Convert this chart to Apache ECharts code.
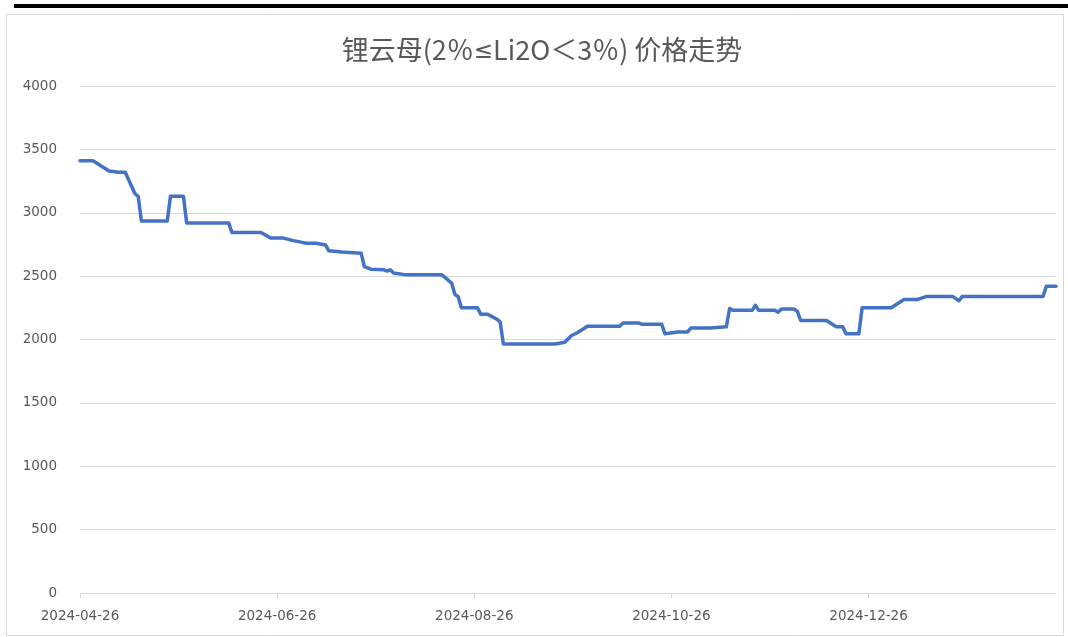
<!DOCTYPE html>
<html>
<head>
<meta charset="utf-8">
<script src="https://cdn.jsdelivr.net/npm/echarts@6/dist/echarts.min.js"></script>
<style>
html,body{margin:0;padding:0;background:#fff;}
#c{width:1068px;height:637px;}
</style>
</head>
<body>
<div id="c"></div>
<script>
const titleParts = ['锂云母(2％', '≤', 'Li2O＜3％) 价格走势'];
const startDate = '2024-04-26';
const endDate = '2025-02-22';
const tickDates = ['2024-04-26','2024-06-26','2024-08-26','2024-10-26','2024-12-26'];
const dates = [
'2024-04-26','2024-04-30','2024-05-05','2024-05-08','2024-05-10','2024-05-13','2024-05-14','2024-05-15',
'2024-05-23','2024-05-24','2024-05-28','2024-05-29','2024-06-11','2024-06-12','2024-06-21','2024-06-24',
'2024-06-28','2024-07-01','2024-07-03','2024-07-05','2024-07-08','2024-07-11','2024-07-12','2024-07-16',
'2024-07-22','2024-07-23','2024-07-25','2024-07-29','2024-07-30','2024-07-31','2024-08-01','2024-08-05',
'2024-08-16','2024-08-19','2024-08-20','2024-08-21','2024-08-22','2024-08-27','2024-08-28','2024-08-30',
'2024-09-02','2024-09-03','2024-09-04','2024-09-20','2024-09-23','2024-09-25','2024-09-27','2024-09-30',
'2024-10-10','2024-10-11','2024-10-16','2024-10-17','2024-10-23','2024-10-24','2024-10-28','2024-10-31',
'2024-11-01','2024-11-07','2024-11-12','2024-11-13','2024-11-14','2024-11-20','2024-11-21','2024-11-22',
'2024-11-27','2024-11-28','2024-11-29','2024-12-03','2024-12-04','2024-12-05','2024-12-13','2024-12-16',
'2024-12-18','2024-12-19','2024-12-23','2024-12-24','2025-01-02','2025-01-06','2025-01-10','2025-01-13',
'2025-01-21','2025-01-23','2025-01-24','2025-02-18','2025-02-19','2025-02-22'
];
const prices = [
3410,3410,3330,3320,3320,3150,3130,2935,
2935,3130,3130,2920,2920,2845,2845,2800,
2800,2780,2770,2760,2760,2745,2700,2690,
2680,2575,2555,2550,2540,2550,2525,2510,
2510,2445,2355,2340,2250,2250,2200,2200,
2160,2140,1965,1965,1978,2030,2055,2105,
2105,2130,2130,2120,2120,2045,2060,2060,
2090,2090,2100,2245,2230,2230,2270,2230,
2230,2215,2240,2240,2220,2150,2150,2100,
2100,2045,2045,2250,2250,2315,2315,2340,
2340,2305,2340,2340,2420,2420
];
const yMin = 0, yMax = 4000, yStep = 500;

function toUTC(s){const p=s.split('-').map(Number);return Date.UTC(p[0],p[1]-1,p[2]);}
const base = toUTC(startDate);
function dayIdx(s){return Math.round((toUTC(s)-base)/86400000);}
function fmt(d){const t=new Date(base+d*86400000);const m=String(t.getUTCMonth()+1).padStart(2,'0');const dd=String(t.getUTCDate()).padStart(2,'0');return t.getUTCFullYear()+'-'+m+'-'+dd;}
const tickIdx = tickDates.map(dayIdx);
const seriesData = dates.map((d,i)=>[dayIdx(d),prices[i]]);

const tFont = {fontSize:27,fontWeight:'normal',color:'#595959',fontFamily:'"Noto Sans CJK SC"'};
const chart = echarts.init(document.getElementById('c'));
chart.setOption({
  animation:false,
  backgroundColor:'#fff',
  graphic:[
    {type:'rect',shape:{x:14,y:4,width:1054,height:4},style:{fill:'#000'},silent:true},
    {type:'rect',shape:{x:6.5,y:14.5,width:1057,height:621},style:{fill:'none',stroke:'#d9d9d9',lineWidth:1},silent:true}
  ],
  title:{text:'{a|'+titleParts[0]+'}{b|'+titleParts[1]+'}{a|'+titleParts[2]+'}',left:537,top:31,textAlign:'center',
    textStyle:Object.assign({rich:{a:tFont,b:Object.assign({},tFont,{fontFamily:'DejaVu Sans',fontSize:23,padding:[5,0,0,0]})}},tFont)},
  grid:{left:80,right:12,top:86,bottom:44,containLabel:false},
  xAxis:{type:'value',min:0,max:dayIdx(endDate),interval:61,
    axisLine:{show:true,lineStyle:{color:'#d9d9d9',width:1}},
    axisTick:{show:true,length:5,lineStyle:{color:'#d9d9d9'},customValues:tickIdx},
    splitLine:{show:false},
    axisLabel:{customValues:tickIdx,formatter:v=>fmt(v),color:'#595959',fontSize:13.5,margin:16,fontFamily:'DejaVu Sans'}
  },
  yAxis:{type:'value',min:yMin,max:yMax,interval:yStep,
    axisLine:{show:false},axisTick:{show:false},
    splitLine:{lineStyle:{color:'#d9d9d9',width:1}},
    axisLabel:{color:'#595959',fontSize:13.5,margin:23,fontFamily:'DejaVu Sans',formatter:v=>String(v)}
  },
  series:[{type:'line',data:seriesData,showSymbol:false,symbol:'none',
    lineStyle:{color:'#4472C4',width:3.5,cap:'round',join:'round'}}]
});
</script>
</body>
</html>
